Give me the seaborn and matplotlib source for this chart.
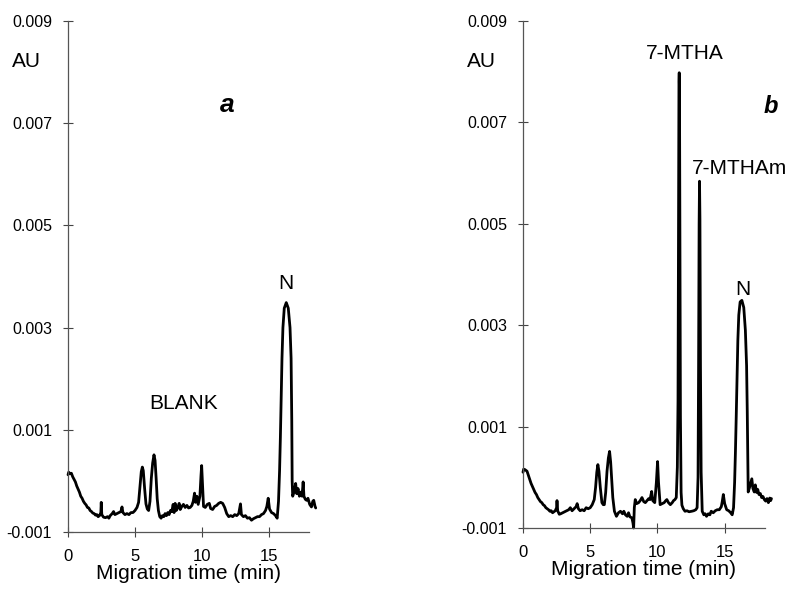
import matplotlib
matplotlib.use("Agg")
import matplotlib.pyplot as plt
import numpy as np
import pandas as pd
import seaborn as sns

# ---- electropherogram readings: migration time (min) and absorbance (AU) ----
time_a = [0.00, 0.05, 0.15, 0.25, 0.35, 0.45, 0.55, 0.65, 0.75, 0.85, 0.95, 1.05,
          1.15, 1.25, 1.35, 1.45, 1.55, 1.65, 1.75, 1.85, 1.95, 2.05, 2.15, 2.25,
          2.35, 2.45, 2.48, 2.52, 2.65, 2.80, 2.95, 3.05, 3.15, 3.30, 3.40, 3.50,
          3.65, 3.80, 3.95, 4.03, 4.10, 4.25, 4.40, 4.55, 4.70, 4.85, 5.00, 5.15,
          5.27, 5.38, 5.47, 5.55, 5.62, 5.72, 5.82, 5.92, 6.02, 6.12, 6.22, 6.32,
          6.42, 6.50, 6.58, 6.66, 6.75, 6.85, 6.95, 7.05, 7.15, 7.25, 7.35, 7.45,
          7.55, 7.65, 7.75, 7.85, 7.92, 8.00, 8.08, 8.20, 8.30, 8.38, 8.50, 8.62,
          8.75, 8.88, 9.00, 9.12, 9.25, 9.35, 9.45, 9.52, 9.62, 9.72, 9.85, 9.93,
          9.98, 10.05, 10.12, 10.25, 10.40, 10.55, 10.65, 10.80, 10.95, 11.10, 11.25,
          11.40, 11.55, 11.70, 11.85, 12.00, 12.15, 12.30, 12.45, 12.60, 12.75,
          12.88, 12.95, 13.10, 13.25, 13.40, 13.55, 13.70, 13.85, 14.00, 14.15,
          14.30, 14.45, 14.60, 14.75, 14.85, 14.95, 15.05, 15.20, 15.35, 15.50,
          15.62, 15.72, 15.80, 15.86, 15.92, 15.98, 16.05, 16.15, 16.30, 16.45,
          16.58, 16.66, 16.71, 16.74, 16.78, 16.90, 17.00, 17.08, 17.18, 17.28,
          17.38, 17.48, 17.56, 17.62, 17.72, 17.82, 17.92, 18.05, 18.18, 18.28,
          18.35, 18.45, 18.50]
au_a = [0.00012, 0.00017, 0.00014, 0.00015, 0.00008, 0.00003, -0.00002, -0.00010,
        -0.00016, -0.00022, -0.00030, -0.00034, -0.00040, -0.00044, -0.00047,
        -0.00052, -0.00053, -0.00058, -0.00060, -0.00063, -0.00064, -0.00067,
        -0.00066, -0.00070, -0.00068, -0.00062, -0.00042, -0.00066, -0.00071,
        -0.00072, -0.00070, -0.00073, -0.00068, -0.00064, -0.00060, -0.00066,
        -0.00064, -0.00062, -0.00060, -0.00051, -0.00062, -0.00066, -0.00064,
        -0.00066, -0.00062, -0.00062, -0.00058, -0.00052, -0.00042, -0.00010,
        0.00018, 0.00027, 0.00020, -0.00015, -0.00045, -0.00055, -0.00058,
        -0.00040, 0.00005, 0.00035, 0.00051, 0.00040, 0.00005, -0.00035,
        -0.00058, -0.00070, -0.00073, -0.00068, -0.00070, -0.00064, -0.00068,
        -0.00062, -0.00066, -0.00058, -0.00060, -0.00046, -0.00062, -0.00044,
        -0.00058, -0.00052, -0.00044, -0.00056, -0.00050, -0.00046, -0.00052,
        -0.00048, -0.00053, -0.00052, -0.00048, -0.00040, -0.00024, -0.00042,
        -0.00030, -0.00046, -0.00030, 0.00010, 0.00030, -0.00010, -0.00050,
        -0.00052, -0.00046, -0.00044, -0.00054, -0.00056, -0.00050, -0.00048,
        -0.00044, -0.00042, -0.00044, -0.00052, -0.00064, -0.00070, -0.00068,
        -0.00070, -0.00066, -0.00068, -0.00064, -0.00045, -0.00066, -0.00070,
        -0.00068, -0.00073, -0.00072, -0.00077, -0.00074, -0.00072, -0.00070,
        -0.00070, -0.00066, -0.00064, -0.00058, -0.00050, -0.00034, -0.00055,
        -0.00062, -0.00064, -0.00068, -0.00073, -0.00040, 0.00020, 0.00085,
        0.00160, 0.00240, 0.00300, 0.00338, 0.00349, 0.00338, 0.00300, 0.00240,
        0.00120, 0.00000, -0.00030, -0.00020, -0.00005, -0.00025, -0.00015,
        -0.00030, -0.00022, -0.00030, -0.00002, -0.00030, -0.00036, -0.00038,
        -0.00034, -0.00046, -0.00051, -0.00040, -0.00038, -0.00050, -0.00053]

time_b = [0.00, 0.05, 0.15, 0.30, 0.40, 0.50, 0.60, 0.70, 0.80, 0.90, 1.00, 1.10,
          1.20, 1.30, 1.40, 1.50, 1.60, 1.70, 1.80, 1.90, 2.00, 2.10, 2.20, 2.30,
          2.40, 2.50, 2.53, 2.58, 2.70, 2.80, 2.95, 3.10, 3.25, 3.40, 3.52, 3.65,
          3.80, 3.95, 4.03, 4.12, 4.25, 4.40, 4.55, 4.70, 4.85, 5.00, 5.15, 5.30,
          5.40, 5.49, 5.57, 5.65, 5.75, 5.87, 5.97, 6.05, 6.15, 6.25, 6.35, 6.44,
          6.52, 6.60, 6.68, 6.80, 6.95, 7.10, 7.25, 7.40, 7.50, 7.62, 7.75, 7.85,
          7.95, 8.10, 8.18, 8.23, 8.28, 8.35, 8.45, 8.60, 8.72, 8.85, 8.98, 9.10,
          9.22, 9.35, 9.45, 9.57, 9.65, 9.80, 9.92, 10.01, 10.08, 10.20, 10.35,
          10.50, 10.62, 10.70, 10.82, 10.96, 11.10, 11.20, 11.30, 11.40, 11.48,
          11.53, 11.57, 11.60, 11.62, 11.64, 11.67, 11.71, 11.76, 11.82, 11.92,
          12.05, 12.20, 12.35, 12.55, 12.70, 12.85, 12.95, 13.02, 13.06, 13.10,
          13.13, 13.16, 13.20, 13.25, 13.33, 13.45, 13.55, 13.65, 13.78, 13.90,
          14.00, 14.15, 14.30, 14.45, 14.60, 14.75, 14.82, 14.90, 15.00, 15.15,
          15.30, 15.45, 15.56, 15.66, 15.74, 15.80, 15.86, 15.92, 15.98, 16.05,
          16.15, 16.28, 16.42, 16.54, 16.63, 16.68, 16.72, 16.75, 16.85, 16.95,
          17.02, 17.10, 17.20, 17.28, 17.38, 17.46, 17.55, 17.65, 17.75, 17.85,
          17.95, 18.05, 18.15, 18.25, 18.35, 18.42, 18.48]
au_b = [0.00010, 0.00016, 0.00015, 0.00012, 0.00004, -0.00004, -0.00012,
        -0.00018, -0.00024, -0.00030, -0.00034, -0.00040, -0.00044, -0.00048,
        -0.00050, -0.00054, -0.00056, -0.00060, -0.00062, -0.00064, -0.00067,
        -0.00066, -0.00070, -0.00068, -0.00066, -0.00060, -0.00046, -0.00066,
        -0.00073, -0.00072, -0.00070, -0.00068, -0.00066, -0.00064, -0.00060,
        -0.00066, -0.00062, -0.00058, -0.00052, -0.00062, -0.00066, -0.00064,
        -0.00066, -0.00060, -0.00062, -0.00060, -0.00054, -0.00044, -0.00020,
        0.00010, 0.00025, 0.00012, -0.00020, -0.00050, -0.00054, -0.00054,
        -0.00030, 0.00012, 0.00038, 0.00051, 0.00030, -0.00004, -0.00040,
        -0.00067, -0.00077, -0.00070, -0.00067, -0.00072, -0.00067, -0.00074,
        -0.00077, -0.00070, -0.00078, -0.00080, -0.00090, -0.00100, -0.00060,
        -0.00044, -0.00052, -0.00050, -0.00046, -0.00040, -0.00048, -0.00050,
        -0.00046, -0.00042, -0.00044, -0.00028, -0.00046, -0.00050, -0.00010,
        0.00031, -0.00010, -0.00054, -0.00052, -0.00050, -0.00046, -0.00044,
        -0.00050, -0.00054, -0.00050, -0.00046, -0.00044, -0.00040, 0.00020,
        0.00150, 0.00500, 0.00780, 0.00798, 0.00760, 0.00450, 0.00120, -0.00030,
        -0.00055, -0.00062, -0.00067, -0.00066, -0.00068, -0.00067, -0.00066,
        -0.00064, -0.00060, 0.00000, 0.00220, 0.00500, 0.00584, 0.00510,
        0.00220, 0.00010, -0.00067, -0.00074, -0.00072, -0.00077, -0.00072,
        -0.00074, -0.00067, -0.00070, -0.00066, -0.00064, -0.00064, -0.00058,
        -0.00048, -0.00034, -0.00052, -0.00064, -0.00066, -0.00070, -0.00074,
        -0.00060, -0.00010, 0.00050, 0.00120, 0.00200, 0.00270, 0.00320,
        0.00346, 0.00349, 0.00335, 0.00290, 0.00220, 0.00130, 0.00030, -0.00029,
        -0.00020, -0.00010, -0.00003, -0.00022, -0.00029, -0.00015, -0.00030,
        -0.00024, -0.00034, -0.00032, -0.00040, -0.00038, -0.00044, -0.00047,
        -0.00042, -0.00050, -0.00041, -0.00046, -0.00042]

y_ticks = [-0.001, 0.001, 0.003, 0.005, 0.007, 0.009]
y_tick_labels = ["-0.001", "0.001", "0.003", "0.005", "0.007", "0.009"]
x_ticks = [0, 5, 10, 15]

sns.set_style("ticks")
plt.rcParams["font.family"] = ["Liberation Sans", "DejaVu Sans"]
plt.rcParams["text.color"] = "black"
plt.rcParams["axes.labelcolor"] = "black"
plt.rcParams["xtick.labelcolor"] = "black"
plt.rcParams["ytick.labelcolor"] = "black"

fig = plt.figure(figsize=(7.93, 5.89), dpi=100)
ax_a = fig.add_axes([0.0858, 0.0968, 0.3039, 0.8675])
ax_b = fig.add_axes([0.6595, 0.1036, 0.3052, 0.8607])

panels = [(ax_a, time_a, au_a), (ax_b, time_b, au_b)]
for ax, t, v in panels:
    df = pd.DataFrame({"time": t, "au": v})
    sns.lineplot(data=df, x="time", y="au", ax=ax, color="black", lw=2.0,
                 estimator=None, sort=False)
    for ln in ax.lines:
        ln.set_clip_on(False)
    ax.set_xlim(0, 18)
    ax.set_ylim(-0.001, 0.009)
    ax.set_xticks(x_ticks)
    ax.set_xticklabels([str(x) for x in x_ticks], fontsize=12)
    ax.set_yticks(y_ticks)
    ax.set_yticklabels(y_tick_labels, fontsize=11.5)
    ax.tick_params(direction="inout", length=7, width=0.8, color="#444444")
    ax.tick_params(axis="x", pad=9)
    ax.tick_params(axis="y", pad=8)
    sns.despine(ax=ax)
    for s in ("left", "bottom"):
        ax.spines[s].set_color("#555555")
        ax.spines[s].set_linewidth(0.9)
    ax.set_xlabel("Migration time (min)", fontsize=15, labelpad=0)
    ax.set_ylabel("")
    ax.text(-3.1, 0.0082, "AU", fontsize=15, ha="center", va="center", clip_on=False)

ax_a.text(11.9, 0.00735, "a", fontsize=19, fontweight="bold", style="italic",
          ha="center", va="center")
ax_a.text(8.6, 0.00152, "BLANK", fontsize=15, ha="center", va="center")
ax_a.text(16.3, 0.00387, "N", fontsize=15, ha="center", va="center")

ax_b.text(18.4, 0.00732, "b", fontsize=17, fontweight="bold", style="italic",
          ha="center", va="center", clip_on=False)
ax_b.text(12.05, 0.00835, "7-MTHA", fontsize=15, ha="center", va="center")
ax_b.text(16.1, 0.00610, "7-MTHAm", fontsize=15, ha="center", va="center",
          clip_on=False)
ax_b.text(16.35, 0.00370, "N", fontsize=15, ha="center", va="center")

fig.savefig("out.png", dpi=100)
